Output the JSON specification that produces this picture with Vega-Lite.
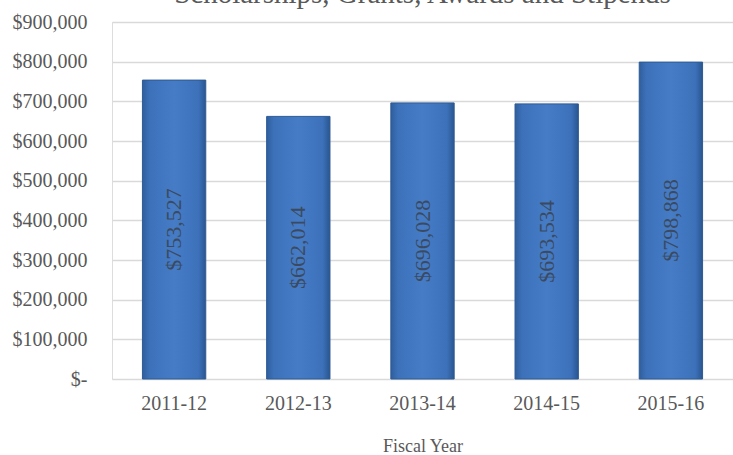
{
  "$schema": "https://vega.github.io/schema/vega-lite/v6.json",
  "width": 621,
  "height": 357,
  "autosize": {"type": "none"},
  "padding": {"left": 112, "top": 22, "right": 0, "bottom": 76},
  "background": "white",
  "config": {
    "axisY": {
      "title": null,
      "values": [0, 100000, 200000, 300000, 400000, 500000, 600000, 700000, 800000, 900000],
      "labelOverlap": false,
      "labelBound": false,
      "domain": false,
      "ticks": false,
      "labelPadding": 25,
      "labelFont": "Liberation Serif",
      "labelFontSize": 20,
      "labelColor": "#595959",
      "gridColor": "#d9d9d9",
      "gridWidth": 1.5
    }
  },
  "title": {
    "text": "Scholarships, Grants, Awards and Stipends",
    "font": "Liberation Serif",
    "fontSize": 29,
    "fontWeight": "normal",
    "color": "#595959",
    "anchor": "middle",
    "offset": 3
  },
  "data": {
    "values": [
      {"year": "2011-12", "value": 753527},
      {"year": "2012-13", "value": 662014},
      {"year": "2013-14", "value": 696028},
      {"year": "2014-15", "value": 693534},
      {"year": "2015-16", "value": 798868}
    ]
  },
  "encoding": {
    "x": {
      "field": "year",
      "type": "nominal",
      "sort": null,
      "scale": {"paddingInner": 0.49, "paddingOuter": 0.245},
      "axis": {
        "title": "Fiscal Year",
        "labelAngle": 0,
        "domain": false,
        "ticks": false,
        "labelPadding": 14,
        "titlePadding": 24,
        "labelFont": "Liberation Serif",
        "labelFontSize": 20,
        "labelColor": "#595959",
        "titleFont": "Liberation Serif",
        "titleFontSize": 18,
        "titleFontWeight": "normal",
        "titleColor": "#595959"
      }
    }
  },
  "layer": [
    {
      "mark": {
        "type": "bar",
        "stroke": "#2d5a94",
        "strokeWidth": 1,
        "color": {
          "gradient": "linear",
          "x1": 0, "y1": 0, "x2": 1, "y2": 0,
          "stops": [
            {"offset": 0, "color": "#2f5e9c"},
            {"offset": 0.12, "color": "#3d72bb"},
            {"offset": 0.5, "color": "#457cc5"},
            {"offset": 0.88, "color": "#3d72bb"},
            {"offset": 1, "color": "#2a5690"}
          ]
        }
      },
      "encoding": {
        "y": {
          "field": "value",
          "type": "quantitative",
          "scale": {"domain": [0, 900000]},
          "axis": {
            "labelExpr": "datum.value == 0 ? '$-\u2007\u2007' : '$' + format(datum.value, ',')"
          }
        }
      }
    },
    {
      "transform": [{"calculate": "datum.value / 2", "as": "mid"}],
      "mark": {
        "type": "text",
        "angle": 270,
        "align": "center",
        "baseline": "middle",
        "font": "Liberation Serif",
        "fontSize": 22,
        "color": "#3b4a60"
      },
      "encoding": {
        "y": {
          "field": "mid",
          "type": "quantitative",
          "axis": {
            "labelExpr": "datum.value == 0 ? '$-\u2007\u2007' : '$' + format(datum.value, ',')"
          }
        },
        "text": {"field": "value", "type": "quantitative", "format": "$,"}
      }
    }
  ]
}
